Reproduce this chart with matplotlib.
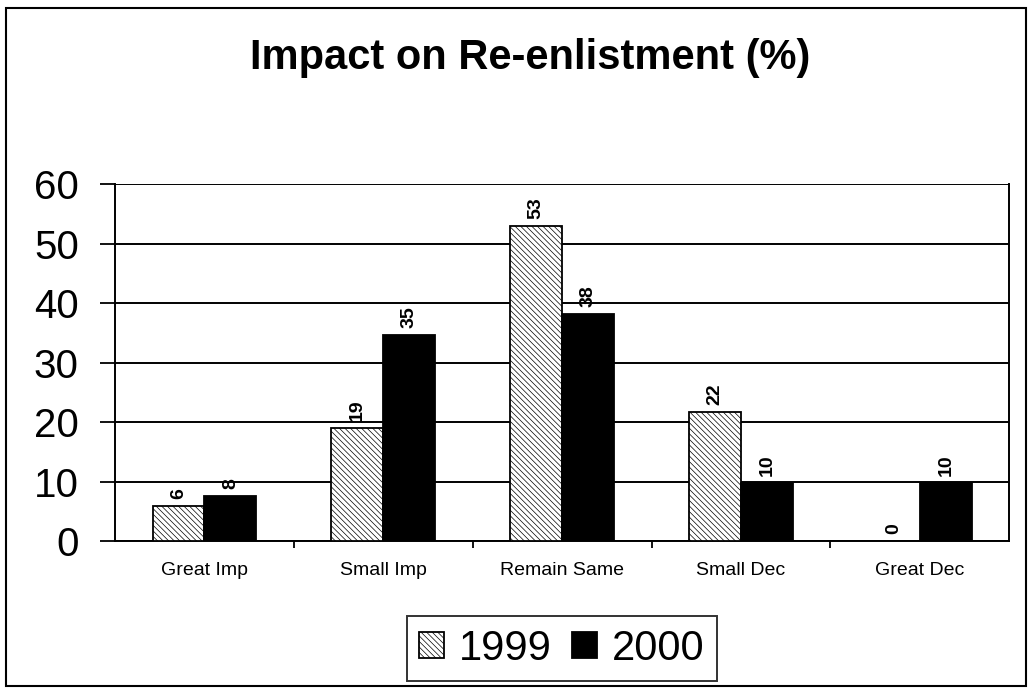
import numpy as np
import matplotlib
matplotlib.use('Agg')
import matplotlib.pyplot as plt
import matplotlib.patches as mpatches

# ── Data ──────────────────────────────────────────────────────────────────────
categories = ['Great Imp', 'Small Imp', 'Remain Same', 'Small Dec', 'Great Dec']
vals_1999 = [5.9, 19.0, 53.0, 21.7, 0.0]   # bar heights
vals_2000 = [7.6, 34.6, 38.2, 9.7, 9.7]
series_names = ['1999', '2000']
yticks = [0, 10, 20, 30, 40, 50, 60]

plt.rcParams['font.family'] = ['Liberation Sans', 'DejaVu Sans']
plt.rcParams['hatch.linewidth'] = 0.5

fig = plt.figure(figsize=(10.29, 6.9), dpi=100)
# plot area: x 115..1009 px, y 184..541 px
ax = fig.add_axes([0.1118, 0.216, 0.869, 0.517])

x = np.arange(len(categories))
w = 0.29
b1 = ax.bar(x - w / 2, vals_1999, w, color='white', edgecolor='black',
            hatch='\\\\\\\\\\\\', linewidth=1.3, label=series_names[0], zorder=3)
b2 = ax.bar(x + w / 2, vals_2000, w, color='black', edgecolor='black',
            linewidth=1.3, label=series_names[1], zorder=3)

for bars, vals in ((b1, vals_1999), (b2, vals_2000)):
    for r, v in zip(bars, vals):
        ax.annotate(f'{round(v)}', xy=(r.get_x() + r.get_width() / 2, v),
                    xytext=(0, 5), textcoords='offset points',
                    rotation=90, ha='center', va='bottom',
                    fontsize=14, fontweight='bold')

ax.set_xlim(-0.5, len(categories) - 0.5)
ax.set_ylim(0, 60)
ax.set_yticks(yticks)
ax.tick_params(axis='y', labelsize=29, length=11, width=1.3, direction='out', pad=15)
ax.set_xticks(x)
ax.set_xticklabels(categories, fontsize=14)
ax.set_xticks(np.arange(0.5, len(categories) - 0.5), minor=True)
ax.tick_params(axis='x', which='major', length=0, pad=15)
ax.tick_params(axis='x', which='minor', length=5, width=1.3, direction='out')

ax.grid(axis='y', color='black', linewidth=1.4, zorder=0)
ax.set_axisbelow(True)
for s in ax.spines.values():
    s.set_linewidth(1.4)
ax.spines['top'].set_visible(False)

fig.text(0.515, 0.916, 'Impact on Re-enlistment (%)', ha='center', va='center',
         fontsize=30, fontweight='bold')

leg = fig.legend(loc='center', bbox_to_anchor=(0.546, 0.060), ncol=2,
                 fontsize=30, frameon=True, fancybox=False, edgecolor='black',
                 handlelength=0.6, handleheight=0.6, handletextpad=0.35,
                 columnspacing=0.5, borderpad=0.3, borderaxespad=0)
leg.get_frame().set_linewidth(1.4)

# outer chart border
fig.patches.append(mpatches.Rectangle((6 / 1029, 4 / 690), 1020 / 1029, 678 / 690,
                                      transform=fig.transFigure, fill=False,
                                      edgecolor='black', linewidth=1.5))

fig.savefig('out.png', dpi=100)
